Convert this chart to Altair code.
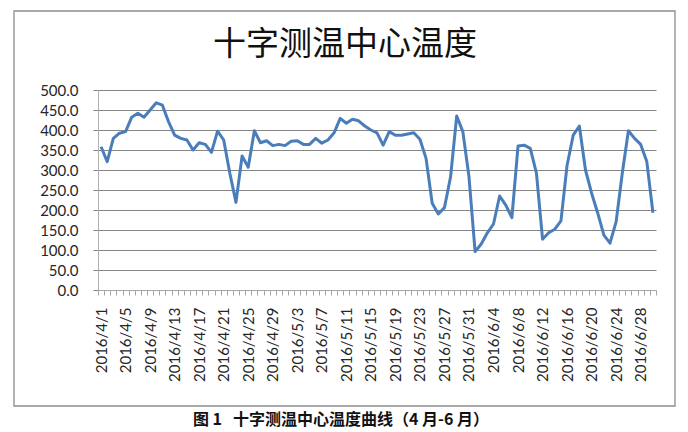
import altair as alt
import pandas as pd

title_text = "十字测温中心温度"
caption_text = "图\u00a01\u00a0\u00a0\u00a0十字测温中心温度曲线（4\u00a0月-6\u00a0月）"

months = [(4, 30), (5, 31), (6, 30)]
dates = [f"2016/{m}/{d}" for m, n in months for d in range(1, n + 1)]

temps = [358, 321, 379, 392, 396, 432, 442, 432, 450, 468,
         462, 421, 387, 379, 375, 350, 368, 364, 344, 397,
         375, 292, 219, 335, 307, 398, 368, 373, 361, 364,
         361, 372, 373, 364, 364, 379, 367, 375, 393, 429,
         417, 427, 423, 410, 400, 393, 362, 396, 387, 387,
         390, 393, 377, 329, 217, 190, 206, 283, 435, 396,
         283, 96, 115, 143, 165, 235, 212, 181, 360, 362,
         354, 292, 127, 143, 152, 173, 312, 387, 410, 300,
         242, 192, 137, 117, 171, 292, 398, 379, 364, 321,
         193]

shown_labels = ["2016/4/1", "2016/4/5", "2016/4/9", "2016/4/13", "2016/4/17",
                "2016/4/21", "2016/4/25", "2016/4/29", "2016/5/3", "2016/5/7",
                "2016/5/11", "2016/5/15", "2016/5/19", "2016/5/23", "2016/5/27",
                "2016/5/31", "2016/6/4", "2016/6/8", "2016/6/12", "2016/6/16",
                "2016/6/20", "2016/6/24", "2016/6/28"]

y_ticks = [0, 50, 100, 150, 200, 250, 300, 350, 400, 450, 500]

df = pd.DataFrame({"date": dates, "temp": temps})
one = pd.DataFrame({"k": [0]})

label_list = "[" + ",".join(f"'{s}'" for s in shown_labels) + "]"

FONT = "Lato"

x_enc = alt.X(
    "date:N", sort=None, bandPosition=0.5,
    scale=alt.Scale(type="band", paddingInner=0, paddingOuter=0),
    axis=alt.Axis(
        title=None,
        labelExpr=f"indexof({label_list}, datum.value) >= 0 ? datum.value : ''",
        labelAngle=-90, labelOverlap=False, labelBound=False, labelFlush=False,
        labelFont=FONT, labelFontSize=15, labelColor="#262626", labelPadding=12,
        tickBand="extent", tickSize=5, tickColor="#A6A6A6",
        domainColor="#A6A6A6", grid=False,
    ),
)

y_enc = alt.Y(
    "temp:Q",
    scale=alt.Scale(domain=[0, 500], nice=False, zero=True),
    axis=alt.Axis(
        title=None, values=y_ticks, format=".1f",
        labelFont=FONT, labelFontSize=15, labelColor="#262626", labelPadding=15,
        tickSize=5, tickColor="#868686", domainColor="#B0B0B0",
        grid=True, gridColor="#868686", gridWidth=1,
    ),
)

line = alt.Chart(df).mark_line(
    color="#4A7EBB", strokeWidth=3, strokeJoin="round"
).encode(x=x_enc, y=y_enc)

frame = alt.Chart(one).mark_rect(
    fillOpacity=0, stroke="#8C8C8C", strokeWidth=1.3
).encode(
    x=alt.value(-84), x2=alt.value(577), y=alt.value(-79), y2=alt.value(316)
)

title = alt.Chart(one).mark_text(
    text=title_text, font="Noto Sans CJK SC", fontSize=33, color="#111111",
    align="center", baseline="middle"
).encode(x=alt.value(247), y=alt.value(-45))

caption = alt.Chart(one).mark_text(
    text=caption_text, font="Noto Sans CJK SC", fontSize=16, fontWeight="bold",
    color="#111111", align="center", baseline="top"
).encode(x=alt.value(243), y=alt.value(322))

chart = alt.layer(frame, line, title, caption).properties(
    width=558, height=200,
    padding={"left": 90, "top": 82, "right": 24, "bottom": 142},
    autosize=alt.AutoSizeParams(type="none"),
    background="white",
).configure_view(stroke=None)

chart.save("out.html", embed_options={"renderer": "svg", "actions": False})
